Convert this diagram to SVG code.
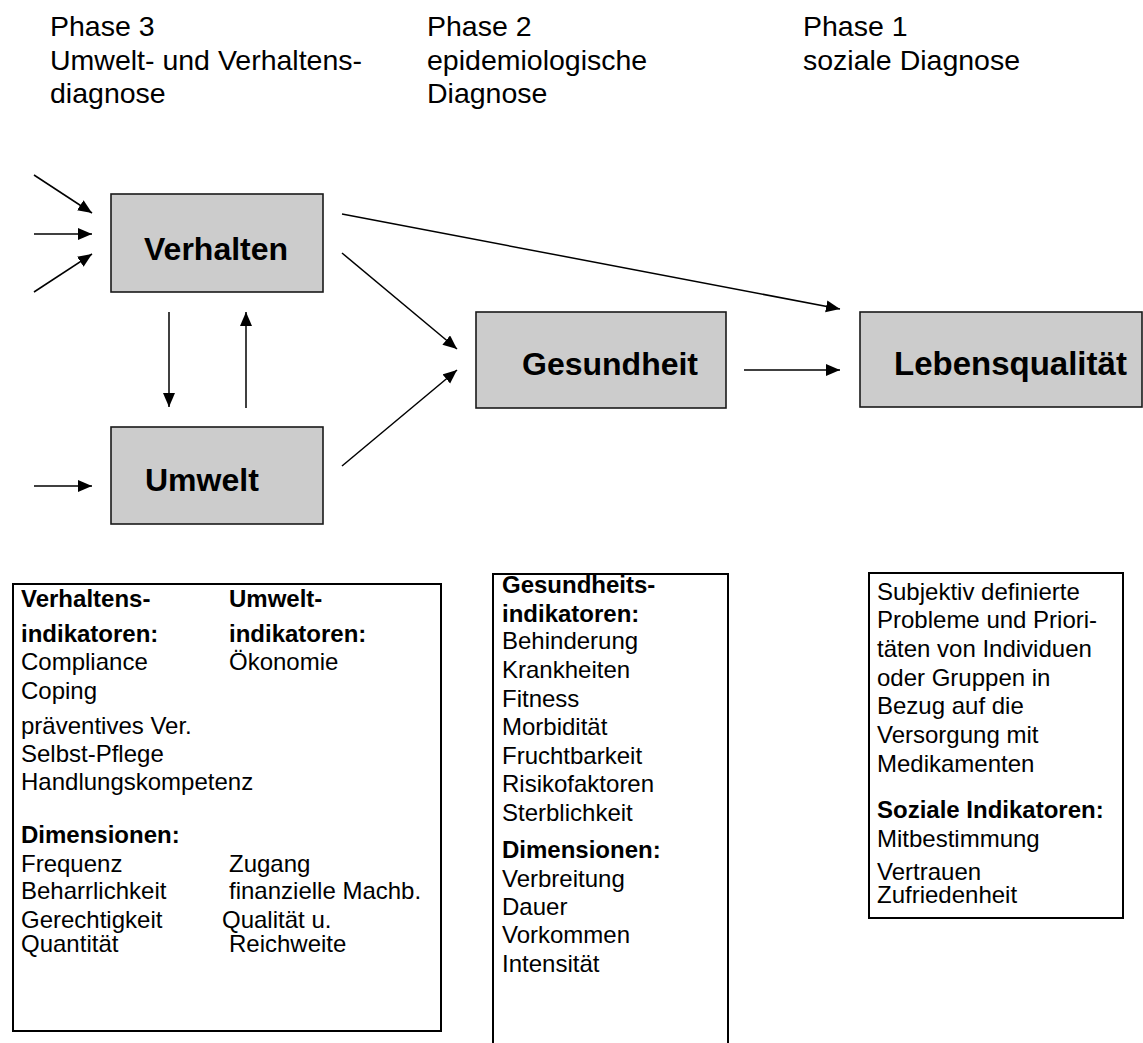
<svg xmlns="http://www.w3.org/2000/svg" width="1143" height="1043" viewBox="0 0 1143 1043">
  <style>
    text { font-family: "Liberation Sans", Arial, Helvetica, sans-serif; fill: #000; }
    .phase { font-size: 28.5px; }
    .node rect { fill: #cccccc; stroke: #1a1a1a; stroke-width: 1.6; }
    .node text { font-size: 32px; font-weight: bold; }
    .panel rect { fill: #ffffff; stroke: #000; stroke-width: 2; }
    .panel text { font-size: 24px; }
    .panel .b { font-weight: bold; }
    .edge { stroke: #000; stroke-width: 1.5; fill: none; marker-end: url(#arrow); }
  </style>
  <defs>
    <marker id="arrow" markerUnits="userSpaceOnUse" markerWidth="15" markerHeight="13" refX="14" refY="6" orient="auto">
      <path d="M0,0 L14,6 L0,12 z" fill="#000"/>
    </marker>
  </defs>

  <rect width="1143" height="1043" fill="#ffffff"/>

  <!-- phase headings -->
  <g id="headings" class="phase">
    <text x="50" y="36">Phase 3</text>
    <text x="50" y="70">Umwelt- und Verhaltens-</text>
    <text x="50" y="103">diagnose</text>
    <text x="427" y="36">Phase 2</text>
    <text x="427" y="70">epidemiologische</text>
    <text x="427" y="103">Diagnose</text>
    <text x="803" y="36">Phase 1</text>
    <text x="803" y="70">soziale Diagnose</text>
  </g>

  <!-- connectors -->
  <g id="connectors">
    <line class="edge" x1="34" y1="175" x2="92" y2="213"/>
    <line class="edge" x1="34" y1="234" x2="92" y2="234"/>
    <line class="edge" x1="34" y1="292" x2="92" y2="254"/>
    <line class="edge" x1="34" y1="486" x2="92" y2="486"/>
    <line class="edge" x1="169" y1="312" x2="169" y2="407"/>
    <line class="edge" x1="246" y1="408" x2="246" y2="312"/>
    <line class="edge" x1="342" y1="253" x2="457" y2="349"/>
    <line class="edge" x1="342" y1="466" x2="457" y2="370"/>
    <line class="edge" x1="342" y1="214" x2="840" y2="309"/>
    <line class="edge" x1="744" y1="370" x2="840" y2="370"/>
  </g>

  <!-- nodes -->
  <g id="verhalten" class="node">
    <rect x="111" y="194" width="212" height="98"/>
    <text x="144" y="260">Verhalten</text>
  </g>
  <g id="umwelt" class="node">
    <rect x="111" y="427" width="212" height="97"/>
    <text x="145" y="491">Umwelt</text>
  </g>
  <g id="gesundheit" class="node">
    <rect x="476" y="312" width="250" height="96"/>
    <text x="522" y="375">Gesundheit</text>
  </g>
  <g id="lebensqualitaet" class="node">
    <rect x="860" y="312" width="282" height="95"/>
    <text x="894" y="375" style="font-size:33px">Lebensqualität</text>
  </g>

  <!-- indicator panels -->
  <g id="panel-verhalten-umwelt" class="panel">
    <rect x="13" y="584" width="428" height="447"/>
    <text class="b" x="21" y="607">Verhaltens-</text>
    <text class="b" x="21" y="642">indikatoren:</text>
    <text x="21" y="670">Compliance</text>
    <text x="21" y="699">Coping</text>
    <text x="21" y="734">präventives Ver.</text>
    <text x="21" y="762">Selbst-Pflege</text>
    <text x="21" y="790">Handlungskompetenz</text>
    <text class="b" x="21" y="843">Dimensionen:</text>
    <text x="21" y="872">Frequenz</text>
    <text x="21" y="899">Beharrlichkeit</text>
    <text x="21" y="928">Gerechtigkeit</text>
    <text x="21" y="952">Quantität</text>
    <text class="b" x="229" y="607">Umwelt-</text>
    <text class="b" x="229" y="642">indikatoren:</text>
    <text x="229" y="670">Ökonomie</text>
    <text x="229" y="872">Zugang</text>
    <text x="229" y="899">finanzielle Machb.</text>
    <text x="222" y="928">Qualität u.</text>
    <text x="229" y="952">Reichweite</text>
  </g>

  <g id="panel-gesundheit" class="panel">
    <rect x="493" y="574" width="235" height="480"/>
    <text class="b" x="502" y="593">Gesundheits-</text>
    <text class="b" x="502" y="622">indikatoren:</text>
    <text x="502" y="649">Behinderung</text>
    <text x="502" y="678">Krankheiten</text>
    <text x="502" y="707">Fitness</text>
    <text x="502" y="735">Morbidität</text>
    <text x="502" y="764">Fruchtbarkeit</text>
    <text x="502" y="792">Risikofaktoren</text>
    <text x="502" y="821">Sterblichkeit</text>
    <text class="b" x="502" y="858">Dimensionen:</text>
    <text x="502" y="887">Verbreitung</text>
    <text x="502" y="915">Dauer</text>
    <text x="502" y="943">Vorkommen</text>
    <text x="502" y="972">Intensität</text>
  </g>

  <g id="panel-sozial" class="panel">
    <rect x="869" y="573" width="254" height="345"/>
    <text x="877" y="600">Subjektiv definierte</text>
    <text x="877" y="628">Probleme und Priori-</text>
    <text x="877" y="657">täten von Individuen</text>
    <text x="877" y="686">oder Gruppen in</text>
    <text x="877" y="714">Bezug auf die</text>
    <text x="877" y="743">Versorgung mit</text>
    <text x="877" y="772">Medikamenten</text>
    <text class="b" x="877" y="818">Soziale Indikatoren:</text>
    <text x="877" y="847">Mitbestimmung</text>
    <text x="877" y="880">Vertrauen</text>
    <text x="877" y="903">Zufriedenheit</text>
  </g>
</svg>
